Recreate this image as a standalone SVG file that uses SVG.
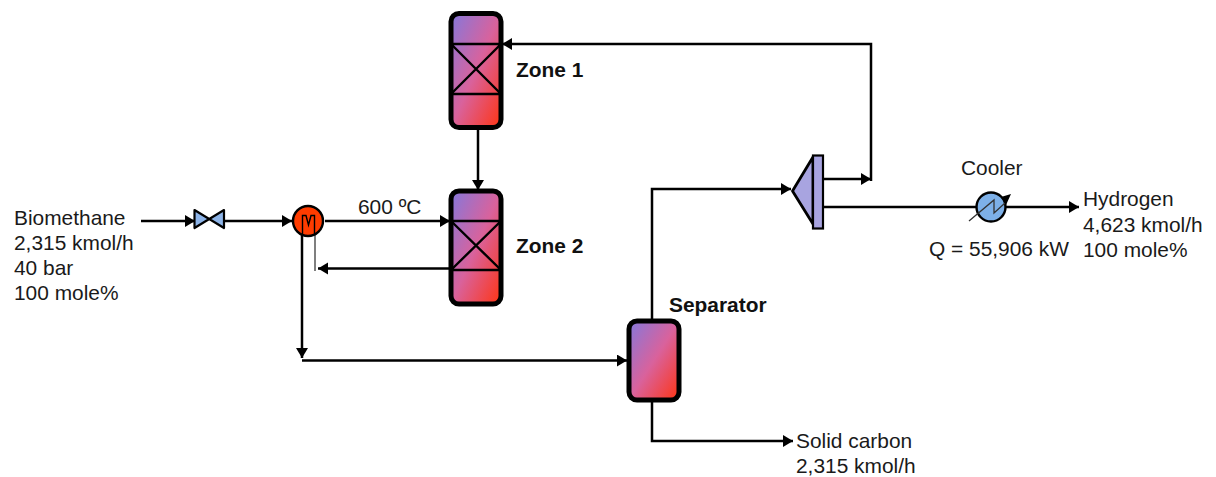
<svg xmlns="http://www.w3.org/2000/svg" width="1216" height="477" viewBox="0 0 1216 477">
<style>
text{font-family:"Liberation Sans",Arial,sans-serif;font-size:20.9px;fill:#1a1a1a}
.b{font-weight:bold;fill:#111}
.v{stroke:#000;stroke-width:5;fill:url(#g)}
.l{stroke:#000;stroke-width:2.400;fill:none}
.c{stroke:#000;stroke-width:2.500;fill:none}
.a{marker-end:url(#m)}
</style>
<defs>
<linearGradient id="g" x1="0" y1="0" x2="1" y2="1"><stop offset="0" stop-color="#8478dc"/><stop offset="0.5" stop-color="#d9629c"/><stop offset="1" stop-color="#ff3412"/></linearGradient>
<marker id="m" markerUnits="userSpaceOnUse" markerWidth="12" markerHeight="13" refX="10" refY="6" orient="auto"><path d="M0 0L10 6L0 12Z" fill="#000"/></marker>
</defs>
<g id="connectors">
<path class="c a" d="M141 221H195"/>
<path class="c a" d="M225 221H292"/>
<path class="c a" d="M325 221H450"/>
<path class="c a" d="M449 268.500H318"/>
<path d="M315 235V271" stroke="#555" stroke-width="1.500" fill="none"/>
<path class="c a" d="M302 234V358"/>
<path class="c a" d="M302 360.500H627"/>
<path class="c a" d="M478 128V190"/>
<path class="c a" d="M652 320V189H791"/>
<path class="c a" d="M823 179H871"/>
<path class="c a" d="M871 181V44H502"/>
<path class="c a" d="M824 207H1079"/>
<path class="c a" d="M652 402V441H793"/>
</g>
<g id="zone1">
<rect class="v" x="451" y="13.500" width="50" height="114" rx="8"/>
<path class="l" d="M451 44H501M451 94H501M451 44L501 94M501 44L451 94"/>
</g>
<g id="zone2">
<rect class="v" x="451" y="191" width="50" height="113" rx="8"/>
<path class="l" d="M451 221H501M451 270H501M451 221L501 270M501 221L451 270"/>
</g>
<g id="separator">
<rect class="v" x="629" y="321" width="50" height="79" rx="8"/>
</g>
<g id="valve">
<path d="M194.500 210L224 228V210L194.500 228Z" fill="#8db4e8" stroke="#000" stroke-width="2.200" stroke-linejoin="round"/>
</g>
<g id="heater">
<circle cx="308" cy="221" r="15" fill="#ff3c00" stroke="#000" stroke-width="2.400"/>
<path d="M302.500 235V215.500H306L308.500 225L311 215.500H314.500V235" stroke="#000" stroke-width="1.400" fill="none"/>
</g>
<g id="compressor">
<path d="M813 157L792.500 191L813 224Z" fill="#a8a4e0" stroke="#000" stroke-width="2.800" stroke-linejoin="round"/>
<rect x="813" y="155.500" width="10" height="73" fill="#a8a4e0" stroke="#000" stroke-width="2.200"/>
</g>
<g id="cooler">
<circle cx="991" cy="207" r="14.500" fill="#7db0e8" stroke="#000" stroke-width="2.400"/>
<path d="M969 221L994 200V213L1005 203" stroke="#333" stroke-width="1.300" fill="none"/>
<path d="M1001 197L1011 194L1006 205Z" fill="#000"/>
</g>
<g id="labels">
<text x="14" y="225">Biomethane</text>
<text x="14" y="250">2,315 kmol/h</text>
<text x="14" y="275">40 bar</text>
<text x="14" y="300">100 mole%</text>
<text x="358" y="214">600 ºC</text>
<text class="b" x="516" y="77">Zone 1</text>
<text class="b" x="516" y="253">Zone 2</text>
<text class="b" x="669" y="312">Separator</text>
<text x="961" y="175">Cooler</text>
<text x="929" y="256">Q = 55,906 kW</text>
<text x="1083" y="206">Hydrogen</text>
<text x="1083" y="232">4,623 kmol/h</text>
<text x="1083" y="257">100 mole%</text>
<text x="796" y="448">Solid carbon</text>
<text x="796" y="473">2,315 kmol/h</text>
</g>
</svg>
